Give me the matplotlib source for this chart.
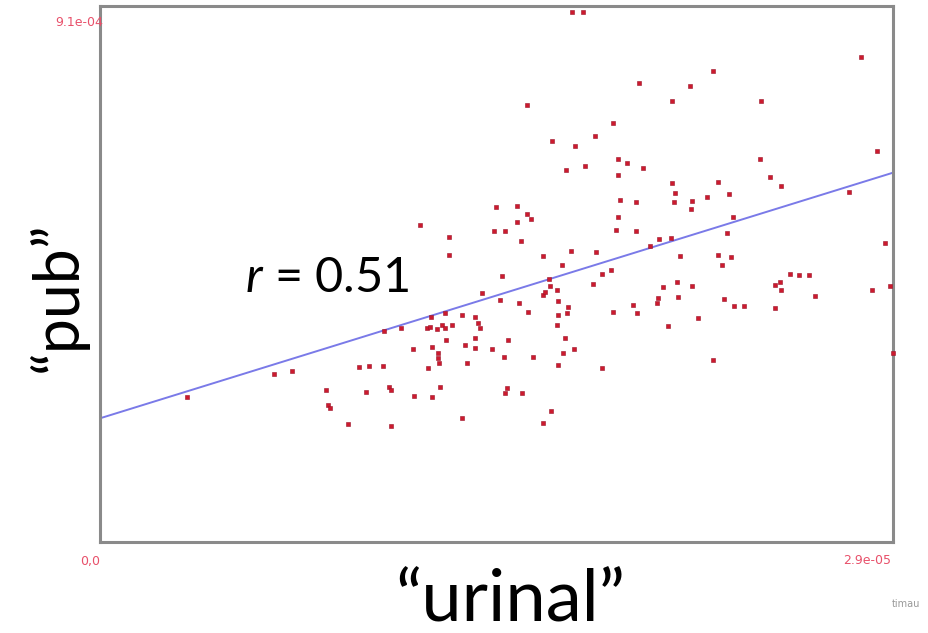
import matplotlib
matplotlib.use("Agg")
import matplotlib.pyplot as plt
import numpy as np

# ---- data ----
# "urinal" frequency, in units of 1e-6
urinal_e6 = [
    3.18, 6.36, 7.02, 8.26, 8.34, 8.41, 9.07, 9.47, 9.73, 9.84,
    10.35, 10.39, 10.57, 10.64, 10.64, 11.01, 11.45, 11.48, 11.70, 11.96,
    12.07, 11.99, 12.10, 12.14, 12.14, 12.32, 12.36, 12.36, 12.40, 12.43,
    12.51, 12.62, 12.62, 12.65, 12.76, 12.76, 12.87, 13.24, 13.24, 13.35,
    13.42, 13.71, 13.71, 13.71, 13.82, 13.90, 13.97, 14.34, 14.41, 14.48,
    14.63, 14.70, 14.77, 14.81, 14.88, 14.81, 15.25, 15.25, 15.40, 14.92,
    15.32, 15.43, 15.62, 15.62, 15.76, 15.65, 15.83, 16.20, 16.20, 16.27,
    16.42, 16.46, 16.49, 16.20, 16.53, 16.71, 16.75, 16.75, 17.11, 17.08,
    16.71, 17.01, 16.93, 16.75, 17.33, 16.90, 17.04, 17.22, 17.37, 17.26,
    17.66, 17.74, 18.03, 18.10, 18.14, 18.36, 18.69, 18.36, 18.76, 18.76,
    18.87, 18.94, 18.94, 18.94, 19.02, 19.27, 19.49, 19.64, 19.60, 19.60,
    19.71, 19.86, 20.11, 20.37, 20.41, 20.44, 20.59, 20.77, 20.88, 20.92,
    20.92, 21.03, 20.99, 21.10, 21.14, 21.21, 21.58, 21.65, 21.61, 21.65,
    21.87, 22.20, 22.42, 22.42, 22.60, 22.60, 22.75, 22.82, 22.93, 23.00,
    23.08, 23.15, 23.19, 23.55, 24.14, 24.17, 24.50, 24.68, 24.87, 24.90,
    24.68, 24.90, 25.23, 25.56, 25.93, 26.15, 27.39, 27.83, 28.23, 28.41,
    28.71, 28.89, 29.00,
]
# "pub" frequency, in units of 1e-5
pub_e5 = [
    24.6, 28.5, 29.0, 25.8, 23.3, 22.8, 20.0, 29.7, 25.5, 29.9,
    29.9, 35.8, 26.3, 25.8, 19.7, 36.3, 32.8, 24.8, 53.8, 36.3,
    36.5, 29.5, 38.2, 33.1, 24.6, 36.2, 32.1, 31.2, 30.4, 26.3,
    36.8, 38.9, 36.3, 34.3, 51.8, 48.7, 36.8, 38.5, 21.1, 33.5,
    30.4, 38.2, 34.6, 32.9, 37.2, 36.3, 42.3, 32.8, 52.8, 56.9,
    41.1, 45.2, 31.4, 52.8, 26.2, 25.3, 57.1, 54.3, 51.1, 34.3,
    40.6, 25.3, 74.2, 55.7, 54.8, 39.1, 31.4, 48.6, 41.9, 42.5,
    44.7, 43.5, 22.2, 20.2, 68.1, 42.8, 40.9, 38.5, 39.9, 38.9,
    36.8, 34.6, 32.1, 30.1, 32.8, 47.0, 63.2, 49.4, 67.2, 90.0,
    90.0, 63.8, 43.8, 68.9, 49.2, 45.5, 46.2, 29.5, 71.1, 39.1,
    53.0, 55.2, 65.0, 62.3, 58.1, 64.4, 40.2, 38.9, 57.7, 52.8,
    77.9, 63.5, 50.3, 40.6, 41.4, 51.4, 43.3, 36.7, 51.6, 74.9,
    61.0, 59.3, 57.7, 44.1, 41.6, 48.6, 77.4, 57.9, 56.5, 43.5,
    38.0, 58.6, 80.0, 30.9, 61.1, 48.7, 47.0, 41.3, 52.5, 59.1,
    48.4, 55.2, 40.1, 40.1, 65.0, 74.9, 62.0, 43.6, 44.1, 42.8,
    39.7, 60.4, 45.5, 45.3, 45.3, 41.8, 59.4, 82.3, 42.8, 66.4,
    50.8, 43.5, 32.1,
]
x_max = 2.9e-05
y_max = 9.1e-04
fit_x = [0.0, 2.9e-05]
fit_y = [2.10e-04, 6.27e-04]
r_value = 0.51
x_label = "\u201curinal\u201d"
y_label = "\u201cpub\u201d"
y_top_label = "9.1e-04"
origin_label = "0,0"
x_right_label = "2.9e-05"
corner_note = "timau"

# ---- figure ----
W, H = 929, 633
plt.rcParams["mathtext.fontset"] = "custom"
plt.rcParams["mathtext.it"] = "Lato:italic"
plt.rcParams["mathtext.rm"] = "Lato"

fig = plt.figure(figsize=(W / 100, H / 100), dpi=100)
fig.patch.set_facecolor("white")


def fx(px):
    return px / W


def fy(py):
    return 1 - py / H


ax = fig.add_axes([fx(100), fy(542), (893 - 100) / W, (542 - 6) / H])
ax.set_xlim(0, x_max)
ax.set_ylim(0, y_max)

x = np.array(urinal_e6) * 1e-6
y = np.array(pub_e5) * 1e-5
ax.scatter(x, y, s=9, marker="s", c="#cc1a2e", edgecolors="#9a1228",
           linewidths=0.4, zorder=3, clip_on=False)
ax.plot(fit_x, fit_y, color="#7a7ae8", lw=1.4, zorder=2)

ax.set_xticks([])
ax.set_yticks([])
for s in ax.spines.values():
    s.set_color("#8a8a8a")
    s.set_linewidth(2.2)

small_red = "#e8506a"
fig.text(fx(55), fy(22), y_top_label, color=small_red, fontsize=9,
         ha="left", va="center", family="DejaVu Sans")
fig.text(fx(100), fy(561), origin_label, color=small_red, fontsize=9,
         ha="right", va="center", family="DejaVu Sans")
fig.text(fx(891), fy(561), x_right_label, color=small_red, fontsize=9,
         ha="right", va="center", family="DejaVu Sans")
fig.text(fx(892), fy(604), corner_note, color="#999999", fontsize=7,
         ha="left", va="center", family="DejaVu Sans")

fig.text(fx(245), fy(292), r"$r$ = " + f"{r_value:.2f}", fontsize=35,
         family="Lato", ha="left", va="baseline", color="black")

fig.text(fx(510), fy(622), x_label, fontsize=52, family="Lato",
         ha="center", va="baseline", color="black")
fig.text(fx(58), fy(297), y_label, fontsize=45, family="Lato",
         rotation=90, ha="center", va="center", color="black")

fig.savefig("out.png", dpi=100, facecolor="white")
